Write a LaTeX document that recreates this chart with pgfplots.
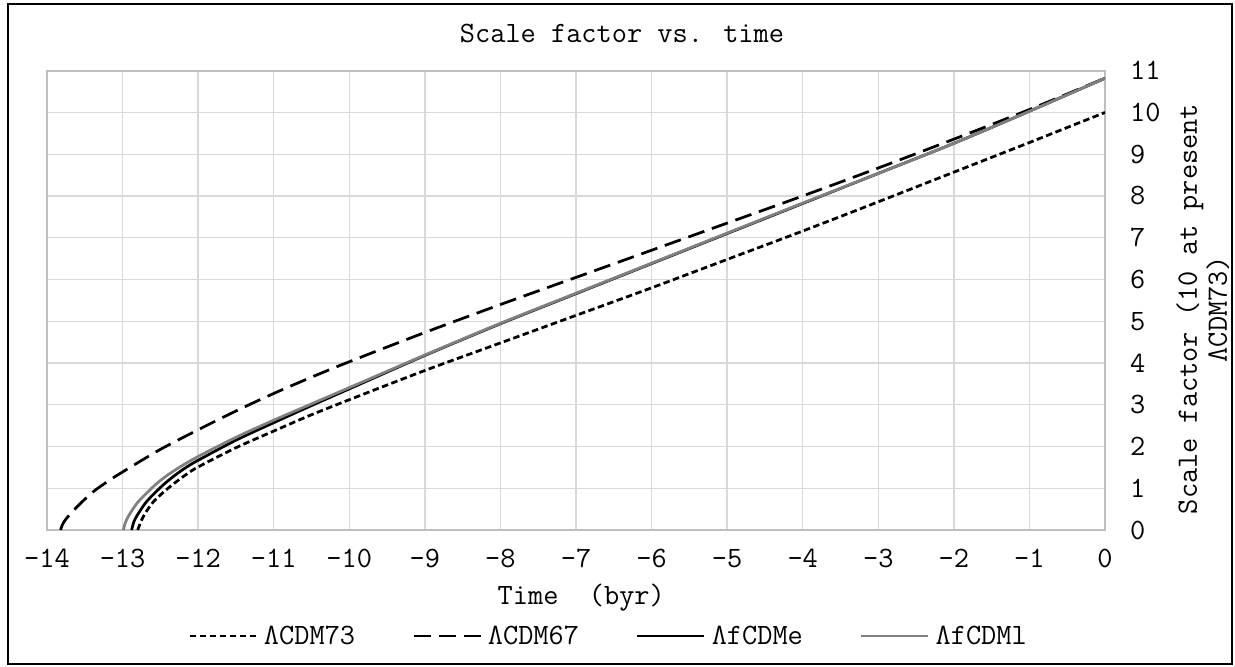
\documentclass[border=0pt]{standalone}
\usepackage{fontspec}
\usepackage{pgfplots}
\pgfplotsset{compat=1.18}

\definecolor{gridgray}{HTML}{D9D9D9}
\definecolor{boxgray}{HTML}{BFBFBF}
\definecolor{linegray}{HTML}{808080}
\newcommand{\chartfont}{\ttfamily\fontsize{29.5bp}{30bp}\selectfont}

% scale factor curves
\pgfplotstableread{
t a
-12.80 0
-12.75 0.23
-12.70 0.40
-12.60 0.66
-12.45 0.92
-12.30 1.14
-12.15 1.34
-12.00 1.51
-11.50 1.97
-11.00 2.37
-10.50 2.76
-10.00 3.12
-9 3.82
-8 4.48
-7 5.14
-6 5.80
-5 6.48
-4 7.16
-3 7.86
-2 8.57
-1 9.28
0 10.00
}\lcdmA

\pgfplotstableread{
t a
-13.82 0
-13.80 0.11
-13.75 0.26
-13.60 0.56
-13.40 0.90
-13.20 1.16
-13.00 1.39
-12.50 1.93
-12.00 2.40
-11.50 2.85
-11.00 3.27
-10.50 3.66
-10.00 4.03
-9 4.73
-8 5.40
-7 6.05
-6 6.70
-5 7.35
-4 8.00
-3 8.67
-2 9.36
-1 10.07
0 10.82
}\lcdmB

\pgfplotstableread{
t a
-12.88 0
-12.85 0.20
-12.80 0.37
-12.70 0.64
-12.60 0.84
-12.45 1.10
-12.30 1.32
-12.15 1.51
-12.00 1.67
-11.50 2.15
-11.00 2.57
-10.50 2.98
-10.00 3.38
-9 4.18
-8 4.94
-7 5.66
-6 6.38
-5 7.10
-4 7.82
-3 8.54
-2 9.26
-1 10.03
0 10.82
}\lfcdmE

\pgfplotstableread{
t a
-12.99 0
-12.96 0.19
-12.91 0.37
-12.81 0.64
-12.70 0.85
-12.55 1.11
-12.40 1.32
-12.24 1.51
-12.00 1.76
-11.50 2.22
-11.00 2.63
-10.50 3.02
-10.00 3.41
-9 4.19
-8 4.95
-7 5.67
-6 6.39
-5 7.11
-4 7.83
-3 8.54
-2 9.26
-1 10.03
0 10.82
}\lfcdmL

\begin{document}
\begin{tikzpicture}[font=\chartfont]
\begin{axis}[
    name=ax,
    scale only axis,
    width=1058bp, height=459.3bp,
    xmin=-14, xmax=0, ymin=0, ymax=11,
    xtick={-14,-13,...,0},
    ytick={0,1,...,11},
    yticklabel pos=right,
    major tick length=0pt,
    grid=major,
    major grid style={gridgray, line width=1.3bp},
    axis line style={boxgray, line width=2bp},
    /pgf/number format/assume math mode=true,
    xticklabel style={anchor=base, yshift=-37bp, inner sep=0pt},
    yticklabel style={anchor=west, xshift=25bp, inner sep=0pt},
    title={Scale factor vs. time},
    title style={at={(0.5435,1.069)}, anchor=center, inner sep=0pt},
    xlabel={Time\ \ (byr)},
    xlabel style={at={(0.505,-0.148)}, anchor=center, inner sep=0pt},
    ylabel={Scale factor (10 at present\\ΛCDM73)},
    ylabel style={at={(1.0926,0.481)}, anchor=center, align=center, inner sep=0pt},
    legend columns=4,
    legend cell align=left,
    legend image code/.code={\draw[#1] (0bp,0bp) -- (67bp,0bp);},
    legend style={at={(0.5298,-0.2308)}, anchor=center, draw=none, fill=none,
        nodes={inner sep=0pt},
        /tikz/every odd column/.append style={column sep=6bp},
        /tikz/every even column/.append style={column sep=57bp}},
    every axis plot/.append style={line width=2.75bp, smooth, tension=0.5},
]
\addplot[black, dash pattern=on 6.5bp off 3.5bp] table[x=t, y=a] {\lcdmA};
\addplot[black, dash pattern=on 17bp off 8bp] table[x=t, y=a] {\lcdmB};
\addplot[black] table[x=t, y=a] {\lfcdmE};
\addplot[linegray] table[x=t, y=a] {\lfcdmL};
\legend{ΛCDM73, ΛCDM67, ΛfCDMe, ΛfCDMl}
\end{axis}
\draw[black, line width=2.5bp] ([shift={(-39bp,-134bp)}]ax.south west) rectangle ++(1224bp,660bp);
\pgfresetboundingbox
\path[use as bounding box] ([shift={(-47bp,-137bp)}]ax.south west) rectangle ++(1235bp,667bp);
\end{tikzpicture}
\end{document}
